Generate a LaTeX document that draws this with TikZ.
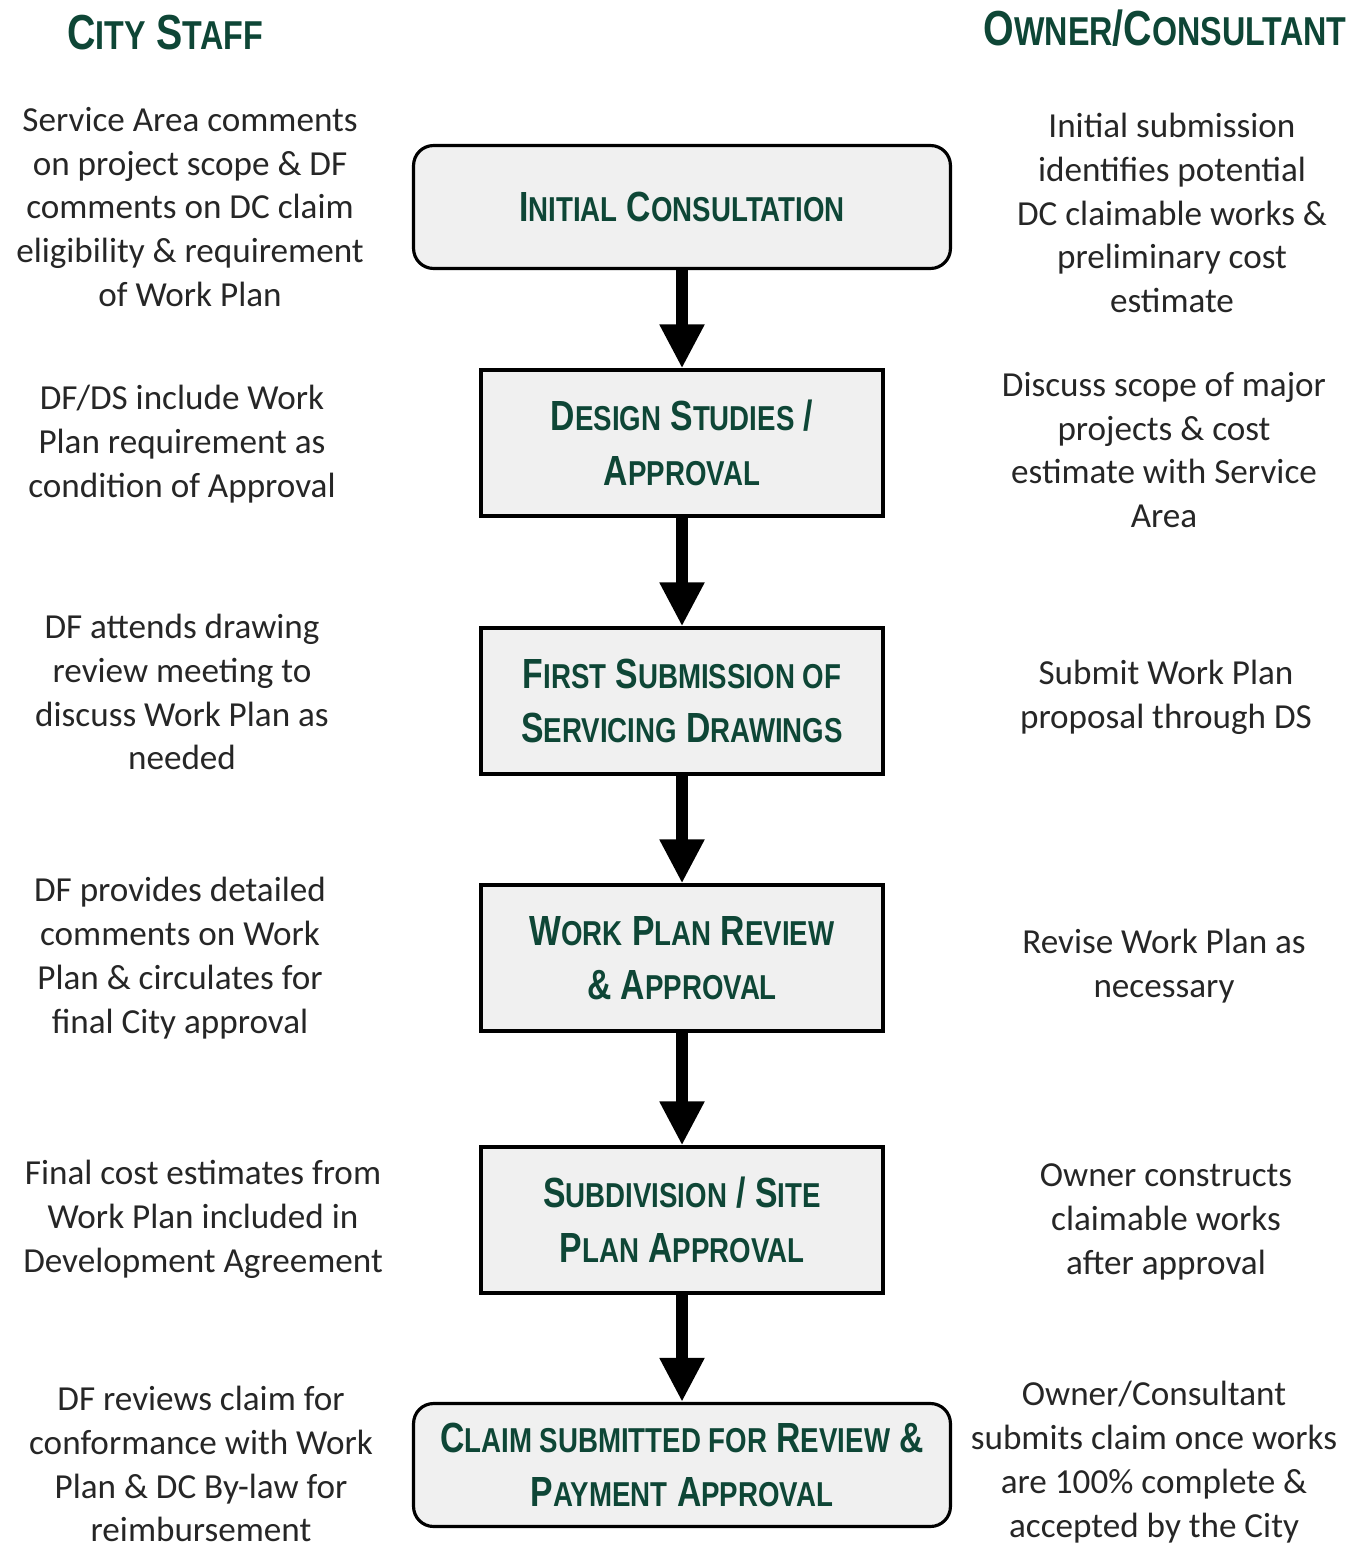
\documentclass[tikz,border=0pt]{standalone}
\usepackage{fontspec}
\setmainfont{Carlito}
\newfontfamily\headfont[FakeStretch=0.8]{Liberation Sans}
\usetikzlibrary{arrows.meta}

\definecolor{cityGreen}{RGB}{14,70,54}
\definecolor{boxGray}{RGB}{240,240,240}

% fake small caps for the green headings
\newcommand\smc[1]{\scalebox{0.82}{#1}}

\begin{document}
\begin{tikzpicture}[x=0.02cm,y=-0.02cm,
  stage/.style={draw,line width=1.8pt,fill=boxGray,text=cityGreen,
    font=\headfont\bfseries\fontsize{24}{31}\selectfont,align=center,
    minimum width=8.04cm,minimum height=2.92cm,inner sep=0pt},
  wide/.style={stage,rounded corners=0.4cm,minimum width=10.74cm,minimum height=2.46cm},
  note/.style={align=center,text=black!85,inner sep=0pt,font=\fontsize{20}{25}\selectfont},
  head/.style={text=cityGreen,font=\headfont\bfseries\fontsize{28}{34}\selectfont},
  flow/.style={-{Triangle[width=0.84cm,length=0.88cm]},line width=0.25cm}]

\useasboundingbox (0,0) rectangle (1364,1548);

% Column headings
\node[head] (hcity) at (165,33) {C\smc{ITY} S\smc{TAFF}};
\node[head] (howner) at (1165,28) {O\smc{WNER}/C\smc{ONSULTANT}};

% Process steps
\node[wide]  (consult) at (682,207)  {I\smc{NITIAL} C\smc{ONSULTATION}};
\node[stage] (design)  at (682,443)  {D\smc{ESIGN} S\smc{TUDIES} /\\A\smc{PPROVAL}};
\node[stage] (first)   at (682,701)  {F\smc{IRST} S\smc{UBMISSION OF}\\S\smc{ERVICING} D\smc{RAWINGS}};
\node[stage] (review)  at (682,958)  {W\smc{ORK} P\smc{LAN} R\smc{EVIEW}\\\& A\smc{PPROVAL}};
\node[stage] (subdiv)  at (682,1220) {S\smc{UBDIVISION} / S\smc{ITE}\\P\smc{LAN} A\smc{PPROVAL}};
\node[wide]  (claim)   at (682,1465) {C\smc{LAIM SUBMITTED FOR} R\smc{EVIEW} \&\\P\smc{AYMENT} A\smc{PPROVAL}};

% Arrows
\draw[flow] (consult) -- (design);
\draw[flow] (design) -- (first);
\draw[flow] (first) -- (review);
\draw[flow] (review) -- (subdiv);
\draw[flow] (subdiv) -- (claim);

% City staff notes
\node[note] (c1) at (190,207)  {Service Area comments\\on project scope \& DF\\comments on DC claim\\eligibility \& requirement\\of Work Plan};
\node[note] (c2) at (182,444)  {DF/DS include Work\\Plan requirement as\\condition of Approval};
\node[note] (c3) at (182,692)  {DF attends drawing\\review meeting to\\discuss Work Plan as\\needed};
\node[note] (c4) at (180,958)  {DF provides detailed\\comments on Work\\Plan \& circulates for\\final City approval};
\node[note] (c5) at (203,1219) {Final cost estimates from\\Work Plan included in\\Development Agreement};
\node[note] (c6) at (201,1464) {DF reviews claim for\\conformance with Work\\Plan \& DC By-law for\\reimbursement};

% Owner/consultant notes
\node[note] (o1) at (1172,213)  {Initial submission\\identifies potential\\DC claimable works \&\\preliminary cost\\estimate};
\node[note] (o2) at (1164,450)  {Discuss scope of major\\projects \& cost\\estimate with Service\\Area};
\node[note] (o3) at (1166,697)  {Submit Work Plan\\proposal through DS};
\node[note] (o4) at (1164,966)  {Revise Work Plan as\\necessary};
\node[note] (o5) at (1166,1222) {Owner constructs\\claimable works\\after approval};
\node[note] (o6) at (1154,1462) {Owner/Consultant\\submits claim once works\\are 100\% complete \&\\accepted by the City};

\end{tikzpicture}
\end{document}
